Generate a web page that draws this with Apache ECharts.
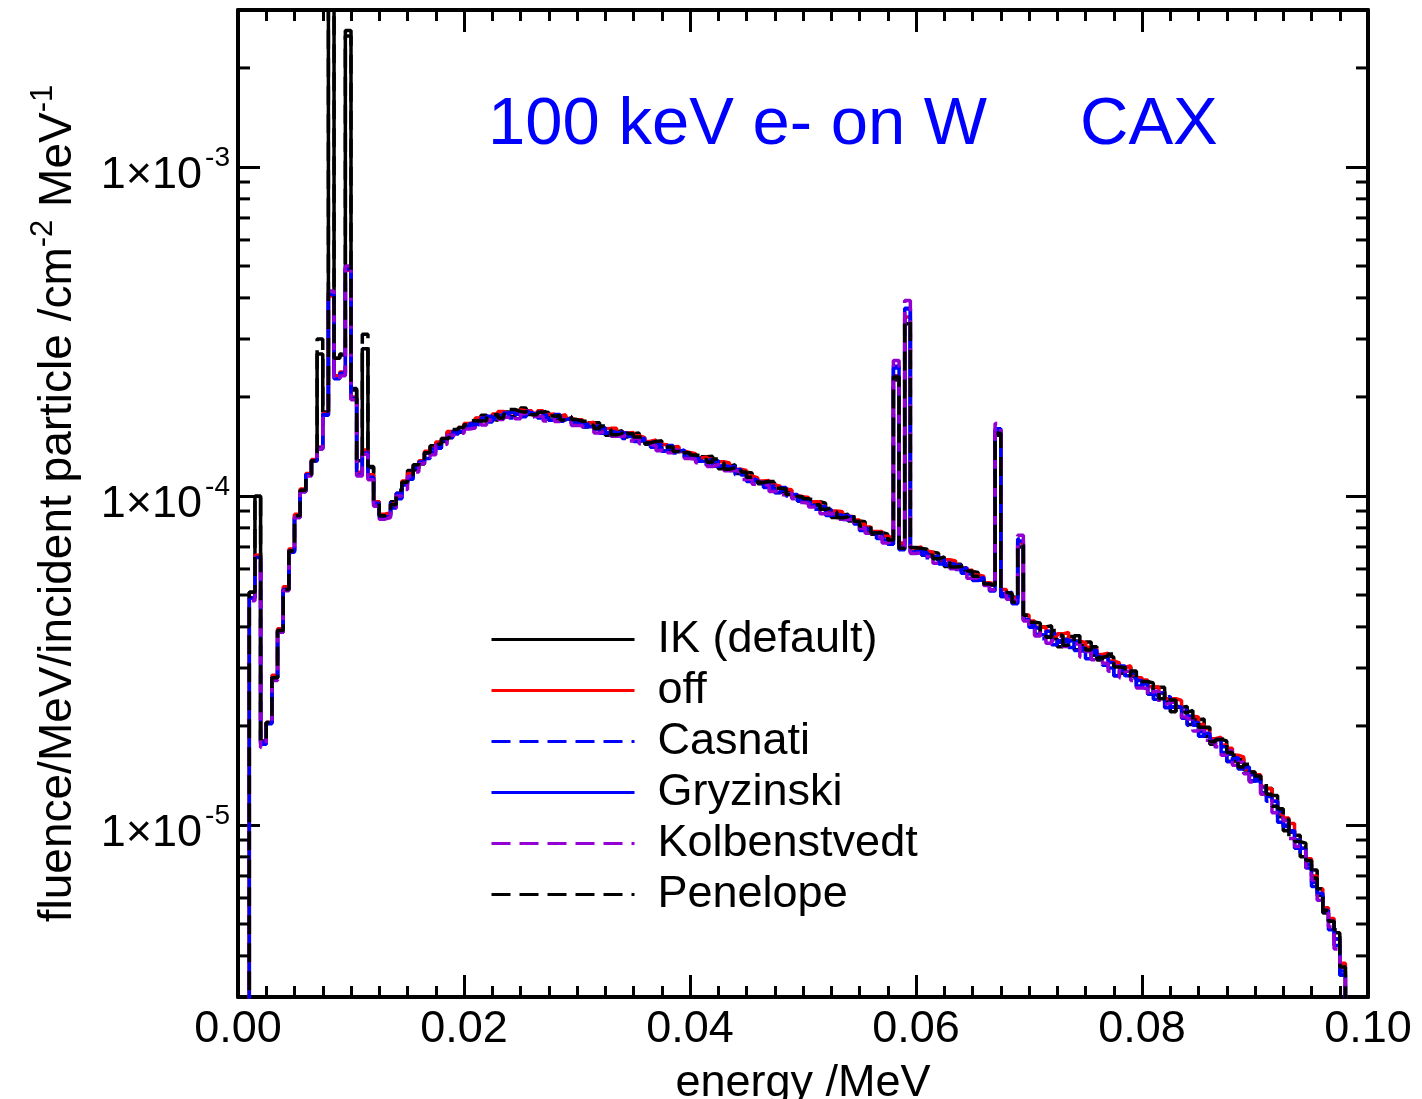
<!DOCTYPE html>
<html><head><meta charset="utf-8">
<script src="https://cdn.jsdelivr.net/npm/echarts@6/dist/echarts.min.js"></script>
<style>html,body{margin:0;padding:0;background:#fff}#c{width:1422px;height:1099px}</style>
</head><body><div id="c"></div>
<script>
// bin lower edges, keV
const energyKeV = [
0,0.5,1,1.5,2,2.5,3,3.5,4,4.5,
5,5.5,6,6.5,7,7.5,8,8.5,9,9.5,
10,10.5,11,11.5,12,12.5,13,13.5,14,14.5,
15,15.5,16,16.5,17,17.5,18,18.5,19,19.5,
20,20.5,21,21.5,22,22.5,23,23.5,24,24.5,
25,25.5,26,26.5,27,27.5,28,28.5,29,29.5,
30,30.5,31,31.5,32,32.5,33,33.5,34,34.5,
35,35.5,36,36.5,37,37.5,38,38.5,39,39.5,
40,40.5,41,41.5,42,42.5,43,43.5,44,44.5,
45,45.5,46,46.5,47,47.5,48,48.5,49,49.5,
50,50.5,51,51.5,52,52.5,53,53.5,54,54.5,
55,55.5,56,56.5,57,57.5,58,58.5,59,59.5,
60,60.5,61,61.5,62,62.5,63,63.5,64,64.5,
65,65.5,66,66.5,67,67.5,68,68.5,69,69.5,
70,70.5,71,71.5,72,72.5,73,73.5,74,74.5,
75,75.5,76,76.5,77,77.5,78,78.5,79,79.5,
80,80.5,81,81.5,82,82.5,83,83.5,84,84.5,
85,85.5,86,86.5,87,87.5,88,88.5,89,89.5,
90,90.5,91,91.5,92,92.5,93,93.5,94,94.5,
95,95.5,96,96.5,97,97.5,98,98.5];

// fluence values in units of 1e-6 /cm^2/MeV per incident particle
const ikDefault = [
0.1,0.1,51,100,18,20.5,28,39,52,68,
87,104,116,128,270,180,6000,262,268,2600,
210,128,280,122,96,87,88,96,99,110,
119.5,121,125,135,142,140,146.5,156,156,157,
165,163,172,176,171,170,176,180,174,181,
185,177,175,180,179.5,170,172,175,171,166,
169,162,167,167,158,153,156.5,158,151,154.5,
155.5,147,143.5,146.5,146,137,138,141,136.5,131,
133,127.5,131.5,132,126,121,123,124.5,117,118,
117.5,111,109,110.5,109.5,102.5,103,104,100,96.5,
98,93.5,96,95,89,86,87.5,88,84,84,
83.5,78.5,76.5,77.5,76.5,71.5,225,71.5,334,67.5,
69,66,67.5,67,63.5,61,62,62,59,59,
58.5,55.5,53.5,53.5,153,49.5,49.5,49,70,42,
41.3,37.9,40,40.3,36.8,34.8,36.7,37.4,34.1,35.2,
36,32.8,31.7,32.6,32.4,28.4,28.9,30.2,28.3,26.4,
27.3,25,26.2,26.2,23.7,22.1,22.8,22.9,20.2,20.9,
21,18.6,17.6,18.2,18,15.6,15.7,15.9,14.7,13.6,
14.1,12.5,12.9,12.3,10.6,9.6,9.6,9.3,8,7.8,
7.3,6.1,5.4,5.1,4.7,3.5,0.3,0.3];

const offValues = [
0.1,0.1,49,66,17.8,20.5,28.5,39.5,53,69,
88,105,117,129,141,178,405,232,238,485,
200,118,138,116,96,88,89,94.5,102,111,
117,124,128,136.7,139.7,146,149.5,157,157,161.5,
166,167,172.5,172.5,173,177.5,180.5,178,180,182.5,
181.5,181.5,178.5,181.5,177,177.5,175,176.5,172,170.5,
170.5,166.5,167.5,163.5,160,160.5,160.5,156,155.5,156,
152.5,150.5,146.5,148,143.5,143,141,141.5,137,135.5,
134.5,130.5,131.5,129.5,127,127,126,122.5,120.5,119.5,
115,113.5,111,111.5,108,107,105,104.5,100.5,99.5,
99,96,96,93,90,90,89.5,87,86.5,84.5,
82,80.5,78,78,75.5,74.5,232,72,350,69.5,
70,68,67.5,65.5,64,64,63.5,61.5,60.5,59.5,
57.5,57,54.5,54,158,52,50.5,49,72,43.5,
41.7,39.9,40,38.8,37.5,38.1,38.5,36.4,36.2,35.9,
34.7,34.5,33,33.3,31.5,31.1,30.1,30.5,28.6,28,
27.6,26.3,26.2,25.2,24.2,24.2,23.9,22.2,21.4,21.3,
20.2,19.6,18.3,18.5,17.5,17.1,16.3,16.1,14.8,14.5,
14.2,13.1,12.9,11.8,10.8,10.5,10.1,9,8.5,7.9,
7,6.4,5.6,5.2,4.5,3.8,0.3,0.3];

const casnatiValues = [
0.1,0.1,49,65,17.8,20.3,28,39,52,68,
87,104,116,128,140,177,400,228,236,490,
198,117,136,114,95,86,87,95,98,109,
113.7,123.2,126.7,130,139,142.6,151,150,154.4,160,
161.4,166,164,169.3,174.7,171.5,174.2,178.8,172.7,179,
175.9,180.8,176.7,172.7,176,173.3,177,168.6,169.3,169,
165.3,165.5,159,160.4,161.6,154.8,155,156.6,149.4,153,
148,150,145,140.7,143,139.6,142.3,135.2,135.1,134,
130.7,130,125.1,126.7,128.3,122.5,121.8,123.2,115.9,117,
111.7,113.1,109.9,106.2,107.5,104.4,106.1,100,99,98.5,
96,95.5,91.2,91.1,90.9,86.7,86.6,87.4,82.9,83,
79.4,80.3,77.2,74.2,75,72.8,248,68.6,370,69,
67.8,67.5,64,64.4,64.6,61.7,61.4,61.6,58.2,58.5,
55.9,56.6,54,51.4,160,50.5,51,47,74,43,
39.9,39.5,36.8,37.4,38.1,35.9,36.1,36.5,33.9,34.5,
33,34,32.5,30.6,31.2,29.7,30.4,28.1,27.9,27.5,
26.4,26,24.1,24.3,24.6,22.8,22.5,22.3,20.1,20.5,
19.2,19.3,18,17,17.3,16.4,16.5,14.8,14.5,14.2,
13.6,13,11.8,11.4,11,9.9,9.5,9,7.9,7.6,
6.7,6.3,5.5,4.8,4.5,3.6,0.3,0.3];

const gryzinskiValues = [
0.1,0.1,49,65,17.6,20.4,28,38.5,52,67.5,
86,103,116,128,139,176,410,227,235,495,
197,116,135,113,94,86,87,92,102,108,
112.5,122,126.7,135.3,136.2,139.7,148,151.5,157.6,156.8,
163,162.7,167.3,172.7,167.8,173.3,176,173.5,179.8,177.2,
174.1,179,176.7,179.8,172.5,169.8,173.5,170.3,172.7,165.6,
167,162.2,162.4,163.6,155.2,156.4,156.5,151.9,155.5,151.5,
146.5,148.5,145,146.5,140.1,136.8,139.5,136.6,137.9,131.3,
132,127.4,127.7,129.3,123.2,123.8,123,119.6,120.7,115.8,
110.6,112,109.9,110.6,105.4,102.3,104,101,101,96.5,
97,93.6,93.1,92.9,87.3,87.6,87.5,84.8,86.4,82.2,
78.6,79.5,77.2,77.3,73.5,71.3,245,69.3,372,67.6,
68.5,66.2,65.3,65.7,62.1,62.4,62,59.8,60.6,57.9,
55.3,56,54,53.5,158,49.5,50,47.5,73,42.1,
40.5,37.9,37.7,38.8,35.3,36.3,36.7,34.6,36.2,33.8,
32,33.5,32.3,32.6,30,28.4,29.5,28.4,28.9,26.4,
26.8,25,24.7,25.2,22.7,23,22.8,21.1,21.4,20.1,
18.6,19,17.9,18.2,16.6,15.6,16,15,15,13.6,
13.8,12.5,12.2,11.8,10.2,10,9.6,8.5,8.5,7.4,
6.5,6.2,5.5,5.1,4.3,3.5,0.3,0.3];

const kolbenstvedtValues = [
0.1,0.1,48,65,17.2,20,27.5,38.5,51.5,67,
86,103,115,127,139,176,420,225,232,500,
196,115,134,112,93,85,86,92,100,104.6,
114.8,118.3,125.4,131.3,133.4,142.6,143.6,153,152.9,155.2,
159.7,161,167.3,164.2,169.5,175,170.7,173.5,176.2,171.8,
177.7,173.6,174.9,174.4,169,173.3,168.3,172,167.6,163.9,
163.7,160.5,162.4,155.5,156.8,158,151.8,151.9,152.5,146.9,
149.5,144,143.6,142.1,137.3,139.6,135.3,138,133.8,130,
129.4,126.1,127.7,122.9,124.5,125,119.3,119.6,118.3,112.3,
112.9,108.6,108.8,107.3,103.2,104.4,100.9,102,98,95.5,
95.1,92.6,93.1,88.3,88.2,88.5,84.9,84.8,84.6,79.7,
80.2,77.1,76.4,75,72,72.8,258,70,393,66.9,
67.1,65.5,65.3,62.4,62.7,63,60.1,59.8,59.4,56.2,
56.4,54.3,53.4,51.9,166,50.5,48.5,48,76,41.7,
39.3,37.5,38.9,35.7,36.4,37.4,34.9,34.9,35.5,32.4,
33.7,31.8,32,31,29.3,30.5,28,29.3,27.5,26.1,
26,24.7,25.5,23.2,23.5,23.7,21.7,21.3,21,19.3,
19.6,18.1,17.8,17.3,16.3,16.8,15.2,15.5,14.3,13.5,
13.4,12.4,12.5,10.9,10.5,10.3,9.1,8.6,8.3,7.1,
6.8,5.9,5.4,4.9,4.2,3.7,0.3,0.3];

const penelopeValues = [
0.1,0.1,51,99,18,20.5,28,39,52,68,
87,104,116,128,300,181,5500,262,270,2500,
212,129,310,123,96,87,88,94,104,110,
116,124.4,126.7,135.3,143.2,144,149.5,151.5,159.1,161.6,
164.6,169.3,169,169.3,176.5,176.8,172.5,177,183.3,180.8,
179.5,182.6,176.7,179.8,181.3,175,175.2,170.3,174.4,170.7,
168.7,168.8,164,160.4,163.2,159.6,153.4,155,158.6,154.5,
151,151.5,145,146.5,147.3,141,140.9,136.6,139.2,135.3,
133.3,132.6,129,126.7,129.5,126.3,120.5,122,123.1,118.2,
114,114.2,109.9,110.6,110.7,105.5,105,101,102,99.5,
98,97.4,94,91.1,91.8,89.4,85.8,86.5,88.1,83.8,
81,81.1,77.2,77.3,77.3,73.5,230,69.3,340,69.7,
69.2,68.9,66,64.4,65.3,63.6,60.8,61,61.8,59.1,
57,57.1,54,53.5,155,51,50.5,47.5,71,43.4,
41.3,41.1,38.5,37.2,39,37.7,35.2,36,37.6,35.2,
34,34.8,32.3,32.6,33.1,30.2,30.1,28.4,29.4,28.1,
27.3,27,25.2,24.2,25.2,24,21.9,22,22.3,20.9,
19.8,19.8,17.9,18.2,18.3,16.6,16.3,15,15.3,14.5,
14.1,13.5,12.4,11.4,11.2,10.4,9.2,8.9,8.8,7.8,
6.9,6.4,5.5,5.1,4.8,3.7,0.3,0.3];

const seriesNames = ['IK (default)','off','Casnati','Gryzinski','Kolbenstvedt','Penelope'];
const seriesColors = ['#000000','#ff0000','#0000ff','#0000ff','#9400d3','#000000'];
const seriesDashed = [false,false,true,false,true,true];
const seriesValues = [ikDefault, offValues, casnatiValues, gryzinskiValues, kolbenstvedtValues, penelopeValues];

const xTickLabels = ['0.00','0.02','0.04','0.06','0.08','0.10'];
const yMinorTicks = [4e-6,5e-6,6e-6,7e-6,8e-6,9e-6,
  2e-5,3e-5,4e-5,5e-5,6e-5,7e-5,8e-5,9e-5,
  2e-4,3e-4,4e-4,5e-4,6e-4,7e-4,8e-4,9e-4,
  2e-3];

const FONT = '"Liberation Sans", Arial, Helvetica, sans-serif';
const chart = echarts.init(document.getElementById('c'), null, {renderer:'canvas'});

const lineSeries = seriesNames.map((name, k) => ({
  name, type:'line', step:'end', symbol:'none', showSymbol:false, animation:false,
  clip:true, z: 2 + k,
  lineStyle:{color:seriesColors[k], width:3.5, type: seriesDashed[k] ? [19,9] : 'solid'},
  itemStyle:{color:seriesColors[k]},
  data: energyKeV.map((e, i) => [e/1000, seriesValues[k][i]*1e-6])
}));

const tickSeries = {
  type:'custom', silent:true, z:20, clip:false, animation:false,
  xAxisIndex:0, yAxisIndex:0,
  data: yMinorTicks.map(v => [0, v]),
  renderItem: (params, api) => {
    const v = api.value(1);
    const pL = api.coord([0, v]);
    const pR = api.coord([0.1, v]);
    return {type:'group', children:[
      {type:'line', shape:{x1:pL[0], y1:pL[1], x2:pL[0]+12, y2:pL[1]}, style:{stroke:'#000', lineWidth:3}},
      {type:'line', shape:{x1:pR[0]-12, y1:pR[1], x2:pR[0], y2:pR[1]}, style:{stroke:'#000', lineWidth:3}}
    ]};
  }
};

function yLabel(v){
  const e = Math.log10(v);
  const r = Math.round(e);
  if (Math.abs(e - r) > 1e-6) return '';
  return '{a|1×10}{b|' + r + '}';
}

const axisLineStyle = {color:'#000', width:4};
const tickStyle = {color:'#000', width:3};

const option = {
  animation:false,
  backgroundColor:'#fff',
  grid:{left:238, right:54, top:10, bottom:102, containLabel:false, outerBoundsMode:'none'},
  xAxis:[{
    type:'value', position:'bottom', min:0, max:0.1, interval:0.02,
    axisLine:{show:true, onZero:false, lineStyle:axisLineStyle},
    axisTick:{show:true, inside:true, length:22, lineStyle:tickStyle},
    minorTick:{show:true, splitNumber:8, length:11, lineStyle:tickStyle},
    splitLine:{show:false},
    axisLabel:{show:true, margin:10, fontSize:45, fontFamily:FONT, color:'#000',
      formatter:(v)=>{ const i = Math.round(v/0.02); return xTickLabels[i] ?? ''; }},
    name:'energy /MeV', nameLocation:'middle', nameGap:36,
    nameTextStyle:{fontSize:45, fontFamily:FONT, color:'#000', lineHeight:54}
  },{
    type:'value', position:'top', min:0, max:0.1, interval:0.02,
    axisLine:{show:true, onZero:false, lineStyle:axisLineStyle},
    axisTick:{show:true, inside:true, length:22, lineStyle:tickStyle},
    minorTick:{show:true, splitNumber:8, length:11, lineStyle:tickStyle},
    splitLine:{show:false}, axisLabel:{show:false}
  }],
  yAxis:[{
    type:'log', logBase:10, position:'left', min:3e-6, max:3e-3,
    axisLine:{show:true, onZero:false, lineStyle:axisLineStyle},
    axisTick:{show:true, inside:true, length:22, lineStyle:tickStyle},
    minorTick:{show:false}, splitLine:{show:false},
    axisLabel:{show:true, margin:8, showMinLabel:false, showMaxLabel:false,
      formatter:yLabel, padding:[18,0,0,0],
      rich:{
        a:{fontSize:45, fontFamily:FONT, color:'#000', lineHeight:64},
        b:{fontSize:28, fontFamily:FONT, color:'#000', lineHeight:24, verticalAlign:'top', padding:[0,0,0,3]}
      }},
    name:'{a|fluence/MeV/incident particle /cm}{s|-2}{a| MeV}{s|-1}',
    nameLocation:'middle', nameGap:150, nameRotate:90,
    nameTextStyle:{fontSize:46, fontFamily:FONT, color:'#000',
      rich:{
        a:{fontSize:46, fontFamily:FONT, color:'#000', lineHeight:60},
        s:{fontSize:31, fontFamily:FONT, color:'#000', lineHeight:30, verticalAlign:'top'}
      }}
  },{
    type:'log', logBase:10, position:'right', min:3e-6, max:3e-3,
    axisLine:{show:true, onZero:false, lineStyle:axisLineStyle},
    axisTick:{show:true, inside:true, length:22, lineStyle:tickStyle},
    minorTick:{show:false}, splitLine:{show:false}, axisLabel:{show:false}
  }],
  legend:{
    show:true, orient:'vertical', left:490, top:617, padding:0, selectedMode:false,
    itemWidth:143, itemHeight:14, itemGap:6,
    itemStyle:{opacity:0},
    lineStyle:{width:3},
    data: seriesNames,
    textStyle:{fontSize:45, fontFamily:FONT, color:'#000', lineHeight:40, padding:[0,0,0,18]}
  },
  graphic:[
    {type:'text', x:488, y:126, silent:true, style:{text:'100 keV e- on W', fontSize:67, fontFamily:FONT, fill:'#0000ff', verticalAlign:'middle', align:'left'}},
    {type:'text', x:1080, y:126, silent:true, style:{text:'CAX', fontSize:67, fontFamily:FONT, fill:'#0000ff', verticalAlign:'middle', align:'left'}}
  ],
  series: [...lineSeries, tickSeries]
};
chart.setOption(option);
</script>
</body></html>
